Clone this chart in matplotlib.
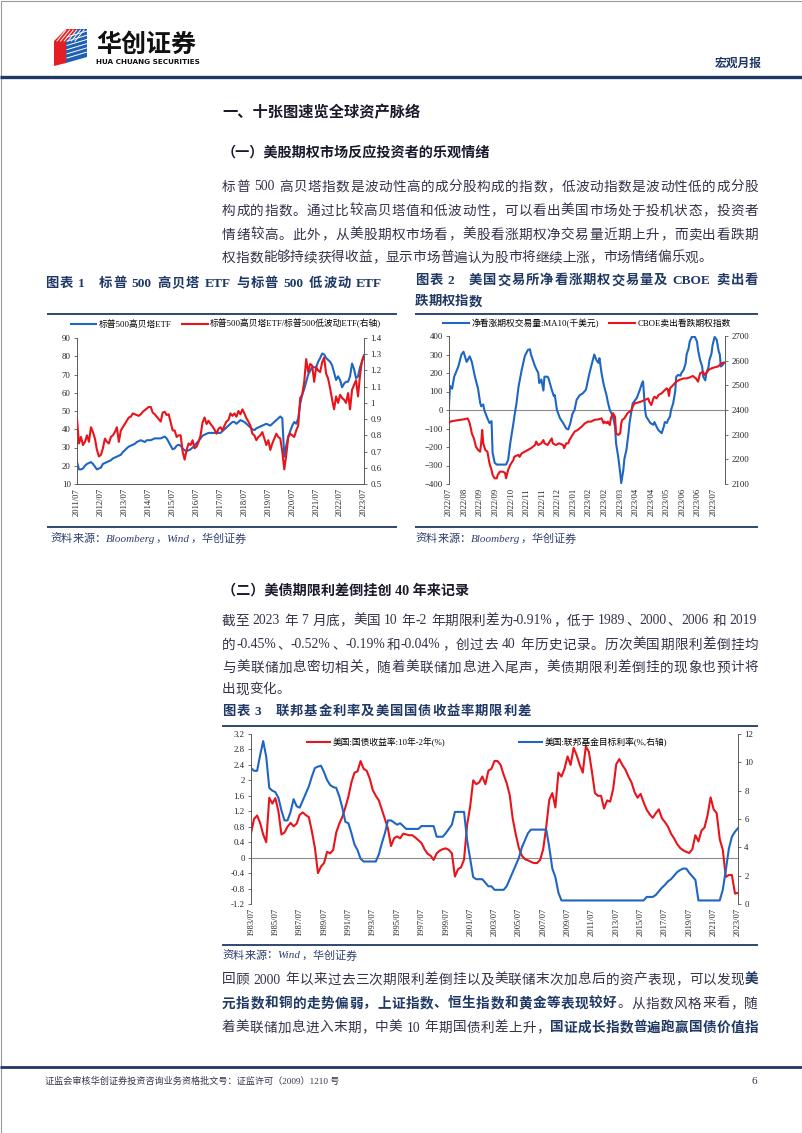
import re
import numpy as np
import matplotlib
matplotlib.use('Agg')
import matplotlib.pyplot as plt
from matplotlib.patches import Polygon

plt.rcParams['font.family'] = ['Liberation Serif', 'Noto Sans CJK SC', 'DejaVu Sans']

W, H = 802, 1133
NAVY = '#1f3864'
BLUE = '#1f66c2'
RED = '#e8141b'
TXT = '#33334a'
AXC = '#595959'

# ---------------- data: chart 1 (monthly, from 2011/07) ----------------
etf_start = 2011.5
etf_ticks = ['2011/07', '2012/07', '2013/07', '2014/07', '2015/07', '2016/07', '2017/07',
             '2018/07', '2019/07', '2020/07', '2021/07', '2022/07', '2023/07']
high_beta = [22, 18, 18, 18.5, 20, 21, 21.5, 22, 21, 19.5, 18, 18.5,
             19, 21, 21.5, 22, 22.5, 23, 24, 24.5, 25, 25.5, 26, 27.5,
             28.5, 29.6, 30.5, 31, 31.5, 32, 33, 33.5, 34, 33.5, 33, 34,
             34, 34, 34.5, 35, 35, 35, 35, 35.5, 36, 35, 33, 31,
             29, 29.5, 31, 31.5, 31, 29.5, 28.5, 28, 28.5, 29, 30, 31,
             32.5, 33.5, 35, 36.5, 37, 37.5, 38, 38, 38, 38, 38, 38,
             38, 39, 40, 41, 42, 43, 44, 44, 43, 44, 45, 44.5,
             44, 43, 42, 41, 40, 39.5, 40.5, 41, 41.5, 42, 42.5, 43,
             42.5, 42, 43, 44, 45, 46, 47, 46, 25, 31, 36, 39,
             42, 44, 43, 46, 54, 59, 62, 66, 70, 72, 74, 74,
             74, 77, 79, 81.5, 81, 79, 78, 77, 75, 71, 67, 69,
             67, 63, 65, 66, 66, 69, 76, 73, 68, 69, 74, 77, 80.5]
beta_ratio = [0.90, 0.75, 0.79, 0.74, 0.76, 0.80, 0.76, 0.85, 0.82, 0.78, 0.71, 0.67,
              0.68, 0.72, 0.78, 0.76, 0.75, 0.79, 0.80, 0.82, 0.85, 0.76, 0.83, 0.85,
              0.87, 0.89, 0.91, 0.915, 0.935, 0.93, 0.925, 0.92, 0.93, 0.945, 0.955, 0.965,
              0.975, 0.975, 0.94, 0.93, 0.915, 0.90, 0.885, 0.94, 0.945, 0.925, 0.93, 0.88,
              0.83, 0.83, 0.79, 0.80, 0.80, 0.70, 0.65, 0.71, 0.75, 0.74, 0.77, 0.72,
              0.73, 0.76, 0.80, 0.88, 0.91, 0.87, 0.89, 0.87, 0.855, 0.835, 0.81, 0.84,
              0.85, 0.83, 0.86, 0.885, 0.895, 0.935, 0.92, 0.935, 0.915, 0.95, 0.93, 0.96,
              0.935, 0.905, 0.885, 0.86, 0.81, 0.80, 0.77, 0.79, 0.80, 0.82, 0.78, 0.74,
              0.77, 0.71, 0.75, 0.78, 0.81, 0.79, 0.78, 0.70, 0.59, 0.68, 0.79, 0.81,
              0.80, 0.79, 0.83, 0.86, 1.03, 1.05, 1.13, 1.27, 1.19, 1.24, 1.23, 1.13,
              1.22, 1.20, 1.19, 1.25, 1.28, 1.18, 1.15, 1.09, 1.02, 0.96, 1.04, 1.00,
              1.05, 1.03, 1.02, 1.00, 1.06, 0.96, 1.08, 1.11, 1.14, 1.04, 1.17, 1.26, 1.29]

# ---------------- data: chart 2 (trading-day index from 2022/07) ----------------
opt_ticks = ['2022/07', '2022/08', '2022/09', '2022/09', '2022/10', '2022/11', '2022/11',
             '2022/12', '2023/01', '2023/02', '2023/02', '2023/03', '2023/04', '2023/04',
             '2023/05', '2023/06', '2023/06', '2023/07']
call_day = [0, 1, 3, 5, 9, 12, 14, 17, 20, 22, 25, 28, 30, 31, 33, 34, 37, 39, 41, 42,
            44, 46, 49, 52, 55, 57, 59, 62, 63, 65, 67, 70, 73, 76, 78, 79, 83, 86, 87, 89,
            91, 92, 95, 96, 99, 101, 102, 104, 107, 110, 113, 115, 117, 119, 121, 123, 126, 129, 132, 135,
            137, 140, 142, 144, 145, 147, 149, 152, 153, 155, 158, 160, 161, 163, 165, 166, 168, 169, 171, 173,
            174, 176, 177, 181, 182, 184, 186, 187, 188, 189, 190, 194, 197, 198, 200, 202, 205, 207, 208, 210,
            211, 213, 214, 216, 218, 219, 221, 223, 224, 226, 228, 229, 231, 232, 234, 237, 239, 240, 242, 244,
            245, 247, 248, 250, 251, 253, 254, 256, 258, 260, 261, 262, 264, 265]
call_net = [30, 130, 115, 180, 235, 300, 315, 260, 290, 260, 180, 115, 40, 20, 30, 0, -45, -70, -60, -230,
            -285, -295, -295, -295, -295, -270, -180, -75, -35, 35, 125, 215, 290, 325, 328, 300, 235, 200, 145, 165,
            105, 180, 180, 170, 110, 75, 80, 0, -45, -70, -100, -105, -70, -20, 0, 55, 80, 90, 110, 190,
            235, 300, 270, 255, 280, 200, 140, 75, 45, 0, -35, -90, -180, -250, -340, -395, -325, -265, -215, -125,
            -70, 0, 35, 65, 80, 110, 145, 155, 80, 0, -35, -70, -80, -65, -90, -110, -125, -90, -65, -70,
            -55, -35, 0, 35, 100, 180, 190, 185, 200, 215, 250, 300, 335, 370, 395, 395, 370, 325, 270, 235,
            180, 160, 200, 230, 270, 305, 350, 395, 380, 315, 300, 235, 245, 255]
put_day = [0, 1, 6, 14, 18, 20, 21, 22, 24, 26, 28, 30, 31, 32, 33, 35, 37, 39, 41, 42,
           44, 46, 47, 49, 52, 54, 55, 57, 59, 60, 62, 63, 67, 68, 70, 73, 76, 79, 83, 84,
           86, 89, 91, 92, 95, 99, 100, 103, 106, 110, 111, 113, 115, 116, 118, 121, 124, 128, 131, 134,
           137, 140, 144, 147, 149, 150, 152, 153, 155, 156, 158, 160, 161, 163, 165, 166, 167, 169, 170, 172,
           174, 176, 177, 179, 182, 185, 189, 192, 193, 195, 197, 198, 200, 202, 205, 208, 210, 211, 212, 213,
           216, 219, 222, 226, 229, 232, 235, 238, 240, 242, 245, 246, 248, 250, 253, 256, 259, 261, 262, 265]
put_index = [2346, 2353, 2357, 2362, 2366, 2346, 2326, 2305, 2285, 2251, 2238, 2231, 2265, 2319, 2265, 2238, 2231, 2184, 2157, 2137,
             2123, 2123, 2137, 2150, 2150, 2145, 2123, 2157, 2177, 2184, 2197, 2211, 2218, 2210, 2224, 2231, 2238, 2245, 2258, 2272,
             2258, 2265, 2278, 2265, 2258, 2285, 2265, 2258, 2265, 2258, 2245, 2265, 2265, 2278, 2292, 2312, 2319, 2333, 2346, 2353,
             2353, 2360, 2362, 2366, 2346, 2353, 2346, 2353, 2339, 2366, 2387, 2373, 2305, 2299, 2305, 2346, 2360, 2366, 2373, 2387,
             2393, 2400, 2414, 2427, 2430, 2434, 2441, 2447, 2434, 2420, 2447, 2454, 2447, 2461, 2468, 2481, 2488, 2481, 2457, 2488,
             2501, 2515, 2522, 2528, 2528, 2532, 2538, 2528, 2515, 2549, 2555, 2542, 2549, 2562, 2569, 2573, 2576, 2582, 2589, 2592]

# ---------------- data: chart 3 (quarterly, from 1983/07) ----------------
rate_start = 1983.5
rate_ticks = [f'{y}/07' for y in range(1983, 2024, 2)]
spread_10y2y = [0.63, 1.0, 1.09, 0.9, 0.6, 0.4, 1.55, 1.4, 1.54, 1.2,
                0.6, 0.65, 0.8, 0.9, 0.81, 0.88, 1.11, 1.17, 1.1, 1.05,
                0.68, 0.25, -0.4, -0.23, -0.14, 0.15, 0.11, 0.2, 0.65, 0.88,
                1.05, 1.3, 1.58, 1.95, 2.2, 2.23, 2.5, 2.3, 2.25, 2.05,
                1.75, 1.6, 1.48, 1.24, 1.0, 0.75, 0.3, 0.5, 0.55, 0.5,
                0.62, 0.6, 0.58, 0.58, 0.52, 0.45, 0.38, 0.22, 0.1, 0.05,
                -0.06, 0.11, 0.18, 0.22, 0.24, 0.2, 0.11, -0.49, -0.3, -0.25,
                -0.05, 0.85, 1.32, 2.0, 1.9, 1.95, 2.1, 1.9, 2.25, 2.3,
                2.5, 2.5, 2.4, 2.15, 1.93, 1.62, 1.0, 0.6, 0.25, 0.05,
                -0.04, -0.07, -0.11, -0.14, -0.14, -0.06, 0.22, 0.8, 1.5, 1.67,
                1.3, 2.2, 2.1, 2.3, 2.62, 2.4, 2.84, 2.65, 2.4, 2.2,
                2.88, 2.74, 2.23, 1.67, 1.6, 1.6, 1.27, 1.48, 1.45, 1.78,
                2.42, 2.55, 2.4, 2.28, 2.1, 1.95, 1.7, 1.55, 1.65, 1.43,
                1.24, 1.12, 1.03, 1.15, 1.25, 1.02, 0.92, 0.8, 0.62, 0.5,
                0.35, 0.25, 0.19, 0.15, 0.12, 0.22, 0.58, 0.42, 0.7, 0.78,
                1.1, 1.56, 1.25, 1.15, 0.48, 0.2, -0.5, -0.45, -0.45, -0.93, -0.91]
fed_target = [9.6, 9.4, 9.4, 10.5, 11.5, 10.4, 8.2, 8.0, 7.9, 7.5,
              6.6, 5.9, 5.9, 6.5, 7.4, 6.9, 6.8, 7.3, 7.8, 8.3,
              9.0, 9.6, 9.7, 9.76, 9.3, 8.75, 8.4, 8.25, 8.2, 7.6,
              6.8, 5.8, 5.7, 5.0, 4.2, 3.8, 3.2, 3.0, 3.0, 3.0,
              3.0, 3.0, 3.5, 4.3, 5.0, 5.9, 5.9, 5.75, 5.6, 5.7,
              5.5, 5.3, 5.3, 5.3, 5.3, 5.3, 5.5, 5.5, 5.5, 5.5,
              5.5, 4.75, 4.75, 4.75, 5.0, 5.3, 5.6, 6.5, 6.5, 6.5,
              6.5, 4.5, 3.2, 1.9, 1.75, 1.75, 1.75, 1.5, 1.25, 1.25,
              1.0, 1.0, 1.0, 1.0, 1.25, 1.75, 2.25, 2.75, 3.25, 4.0,
              4.5, 5.0, 5.25, 5.25, 5.25, 5.25, 5.25, 5.25, 4.0, 2.5,
              1.9, 0.8, 0.25, 0.25, 0.25, 0.25, 0.25, 0.25, 0.25, 0.25,
              0.25, 0.25, 0.25, 0.25, 0.25, 0.25, 0.25, 0.25, 0.25, 0.25,
              0.25, 0.25, 0.25, 0.25, 0.25, 0.25, 0.25, 0.25, 0.25, 0.25,
              0.5, 0.5, 0.5, 0.64, 0.9, 1.15, 1.35, 1.6, 1.75, 2.0,
              2.25, 2.4, 2.5, 2.5, 2.2, 1.95, 1.7, 0.25, 0.25, 0.25,
              0.25, 0.25, 0.25, 0.25, 0.25, 1.0, 2.4, 3.9, 4.75, 5.1, 5.35]

fig = plt.figure(figsize=(W / 100, H / 100), dpi=100)
fig.patch.set_facecolor('white')

page = fig.add_axes([0, 0, 1, 1], zorder=0)
page.set_xlim(0, W)
page.set_ylim(H, 0)
page.axis('off')
renderer = fig.canvas.get_renderer()


def px_box(l, t, r, b):
    return [l / W, 1 - b / H, (r - l) / W, (b - t) / H]


def put_line(y, segs, x0=222, x1=758, size=9.8, justify=True, color=TXT, bold_color=NAVY, style='normal'):
    em = size * 100 / 72
    objs, ws = [], []
    for s, bold in segs:
        for t in re.findall(r'[0-9A-Za-z.%\-/]+| |.', s):
            if t == ' ':
                objs.append(None)
                ws.append(0.25 * em)
                continue
            o = page.text(x0, y, t, fontsize=size, va='center', ha='left', fontstyle=style,
                          fontweight='bold' if bold else 'normal',
                          color=bold_color if bold else color)
            objs.append(o)
            if ord(t[0]) > 0x2000:
                ws.append(em)
            else:
                ws.append(o.get_window_extent(renderer).width + 0.06 * em)
    gap = (x1 - x0 - sum(ws)) / max(len(objs) - 1, 1) if justify else 0
    x = x0
    for o, w in zip(objs, ws):
        if o is not None:
            o.set_x(x)
        x += w + gap


# ---------------- page decoration ----------------
page.add_patch(plt.Rectangle((0.5, 0.5), W - 1, H - 1, fill=False, ec='#9a9a9a', lw=0.8))
# logo: blue striped side, red striped top, red solid front
page.add_patch(Polygon([(66, 29), (87, 29), (87, 57), (66, 63)], closed=True, fc='#1f5fb4', ec='none'))
page.add_patch(Polygon([(54, 41), (66, 29), (78, 29), (66, 41)], closed=True, fc='#e31f26', ec='none'))
page.add_patch(Polygon([(54, 41), (66, 41), (66, 63), (54, 66)], closed=True, fc='#e31f26', ec='none'))
for k in range(6):
    page.plot([57 + 3.6 * k, 66 + 3.6 * k], [41, 30], color='white', lw=0.7)
    page.plot([67, 87], [37 + 4.2 * k, 31 + 4.2 * k], color='white', lw=0.7)
page.text(96, 45, '华创证券', fontsize=18, fontweight='black', color='#111111', va='center',
          family=['Noto Sans CJK SC'])
page.text(96, 62, 'HUA CHUANG SECURITIES', fontsize=5.2, fontweight='bold', color='#111111',
          va='center', family=['DejaVu Sans'])
page.text(762, 64, '宏观月报', fontsize=8.5, fontweight='bold', color=NAVY, va='center', ha='right')
page.hlines(77, 0, W, color=NAVY, lw=2.4)
page.hlines(1067, 0, W, color=NAVY, lw=2.0)
page.text(45, 1081, '证监会审核华创证券投资咨询业务资格批文号：证监许可（2009）1210 号',
          fontsize=6.6, color=TXT, va='center')
page.text(757, 1081, '6', fontsize=8, color=TXT, va='center', ha='right')

# ---------------- text blocks ----------------
page.text(222, 113, '一、十张图速览全球资产脉络', fontsize=11, fontweight='bold', color='#1a1a2e', va='center')
page.text(222, 153, '（一）美股期权市场反应投资者的乐观情绪', fontsize=10.2, fontweight='bold',
          color='#1a1a2e', va='center')
put_line(187, [('标普 500 高贝塔指数是波动性高的成分股构成的指数，低波动指数是波动性低的成分股', False)])
put_line(211, [('构成的指数。通过比较高贝塔值和低波动性，可以看出美国市场处于投机状态，投资者', False)])
put_line(235, [('情绪较高。此外，从美股期权市场看，美股看涨期权净交易量近期上升，而卖出看跌期', False)])
put_line(258, [('权指数能够持续获得收益，显示市场普遍认为股市将继续上涨，市场情绪偏乐观。', False)], justify=False)

put_line(284, [('图表 1   标普 500 高贝塔 ETF 与标普 500 低波动 ETF', True)], x0=45, x1=383, size=9.6)
put_line(281, [('图表 2   美国交易所净看涨期权交易量及 CBOE 卖出看', True)], x0=415, size=9.6)
put_line(302, [('跌期权指数', True)], x0=415, size=9.6, justify=False)
page.hlines(314, 47, 397, color=NAVY, lw=1.3)
page.hlines(314, 415, 758, color=NAVY, lw=1.3)
page.hlines(527, 47, 397, color=NAVY, lw=1.3)
page.hlines(527, 415, 758, color=NAVY, lw=1.3)
put_line(539, [('资料来源：Bloomberg，Wind，华创证券', False)], x0=50, size=8, justify=False,
         color='#2f3f6f', style='italic')
put_line(539, [('资料来源：Bloomberg，华创证券', False)], x0=415, size=8, justify=False,
         color='#2f3f6f', style='italic')

page.text(222, 591, '（二）美债期限利差倒挂创 40 年来记录', fontsize=10.2, fontweight='bold',
          color='#1a1a2e', va='center')
put_line(621, [('截至 2023 年 7 月底，美国 10 年-2 年期限利差为-0.91%，低于 1989、2000、2006 和 2019', False)])
put_line(645, [('的-0.45%、-0.52%、-0.19%和-0.04%，创过去 40 年历史记录。历次美国期限利差倒挂均', False)])
put_line(668, [('与美联储加息密切相关，随着美联储加息进入尾声，美债期限利差倒挂的现象也预计将', False)])
put_line(690, [('出现变化。', False)], justify=False)

put_line(712, [('图表 3   联邦基金利率及美国国债收益率期限利差', True)], x1=531, size=9.6)
page.hlines(726, 222, 758, color=NAVY, lw=1.3)
page.hlines(945, 222, 758, color=NAVY, lw=1.3)
put_line(956, [('资料来源：Wind，华创证券', False)], size=8, justify=False, color='#2f3f6f', style='italic')

put_line(980, [('回顾 2000 年以来过去三次期限利差倒挂以及美联储末次加息后的资产表现，可以发现', False),
               ('美', True)])
put_line(1004, [('元指数和铜的走势偏弱，上证指数、恒生指数和黄金等表现较好', True),
                ('。从指数风格来看，随', False)])
put_line(1028, [('着美联储加息进入末期，中美 10 年期国债利差上升，', False),
                ('国证成长指数普遍跑赢国债价值指', True)])


# ---------------- chart helpers ----------------
def style_pair(ax, ax2, bottom=False):
    for a in (ax, ax2):
        a.patch.set_visible(False)
        for s in a.spines.values():
            s.set_visible(False)
            s.set_color(AXC)
            s.set_linewidth(0.7)
    ax.spines['left'].set_visible(True)
    ax2.spines['right'].set_visible(True)
    if bottom:
        ax.spines['bottom'].set_visible(True)
    ax.tick_params(axis='y', direction='out', length=2.5, width=0.6, colors=AXC,
                   labelcolor='#222222', labelsize=6.3, pad=2)
    ax2.tick_params(axis='y', direction='out', length=2.5, width=0.6, colors=AXC,
                    labelcolor='#222222', labelsize=6.3, pad=2)
    ax.tick_params(axis='x', length=0, labelsize=6.1, labelrotation=90, pad=3, labelcolor='#222222')


def fmt(v):
    return f'{round(v, 2):g}'


leg_kw = dict(frameon=False, prop={'family': ['Liberation Serif', 'Noto Sans CJK SC'], 'size': 6.3},
              handlelength=2.9, handletextpad=0.3, columnspacing=1.2, borderaxespad=0)

# ---------------- chart 1 ----------------
ax1 = fig.add_axes(px_box(77, 338, 364, 484), zorder=2)
ax1b = ax1.twinx()
x1 = etf_start + np.arange(len(high_beta)) / 12
l1, = ax1.plot(x1, high_beta, color=BLUE, lw=1.5, label='标普500高贝塔ETF')
l2, = ax1b.plot(x1, beta_ratio, color=RED, lw=1.5, label='标普500高贝塔ETF/标普500低波动ETF(右轴)')
ax1.set_xlim(etf_start, etf_start + 12)
ax1.set_ylim(10, 90)
ax1b.set_ylim(0.5, 1.4)
ax1.set_yticks(range(10, 91, 10))
r_ticks = [0.5, 0.6, 0.7, 0.8, 0.9, 1.0, 1.1, 1.2, 1.3, 1.4]
ax1b.set_yticks(r_ticks)
ax1b.set_yticklabels([fmt(v) for v in r_ticks])
ax1.set_xticks(etf_start + np.arange(len(etf_ticks)))
ax1.set_xticklabels(etf_ticks)
style_pair(ax1, ax1b, bottom=True)
ax1.legend([l1, l2], [l1.get_label(), l2.get_label()], ncol=2, loc='lower center',
           bbox_to_anchor=(0.52, 1.04), **leg_kw)

# ---------------- chart 2 ----------------
ax2 = fig.add_axes(px_box(449, 336, 725, 484), zorder=2)
ax2b = ax2.twinx()
ax2.axhline(0, color='#8c8c8c', lw=0.8)
m1, = ax2.plot(call_day, call_net, color=BLUE, lw=1.5, label='净看涨期权交易量:MA10(千美元)')
m2, = ax2b.plot(put_day, put_index, color=RED, lw=1.5, label='CBOE卖出看跌期权指数')
ax2.set_xlim(0, 266)
ax2.set_ylim(-400, 400)
ax2b.set_ylim(2100, 2700)
ax2.set_yticks(range(-400, 401, 100))
ax2b.set_yticks(range(2100, 2701, 100))
ax2.set_xticks(np.arange(len(opt_ticks)) * 15)
ax2.set_xticklabels(opt_ticks)
style_pair(ax2, ax2b)
ax2.legend([m1, m2], [m1.get_label(), m2.get_label()], ncol=2, loc='lower center',
           bbox_to_anchor=(0.5, 1.03), **leg_kw)

# ---------------- chart 3 ----------------
ax3 = fig.add_axes(px_box(251, 734, 738, 904), zorder=2)
ax3b = ax3.twinx()
ax3.axhline(0, color='#8c8c8c', lw=0.8)
x3 = rate_start + np.arange(len(spread_10y2y)) * 0.25
n1, = ax3.plot(x3, spread_10y2y, color=RED, lw=1.5, label='美国:国债收益率:10年-2年(%)')
n2, = ax3b.plot(x3, fed_target, color=BLUE, lw=1.5, label='美国:联邦基金目标利率(%,右轴)')
ax3.set_xlim(rate_start, rate_start + 40)
ax3.set_ylim(-1.2, 3.2)
ax3b.set_ylim(0, 12)
l_ticks = [-1.2, -0.8, -0.4, 0, 0.4, 0.8, 1.2, 1.6, 2.0, 2.4, 2.8, 3.2]
ax3.set_yticks(l_ticks)
ax3.set_yticklabels([fmt(v) for v in l_ticks])
ax3b.set_yticks(range(0, 13, 2))
ax3.set_xticks(rate_start + np.arange(len(rate_ticks)) * 2)
ax3.set_xticklabels(rate_ticks)
style_pair(ax3, ax3b)
leg3 = dict(leg_kw)
leg3['handlelength'] = 2.6
leg3['columnspacing'] = 8.5
ax3.legend([n1, n2], [n1.get_label(), n2.get_label()], ncol=2, loc='upper center',
           bbox_to_anchor=(0.485, 1.0), **leg3)

fig.savefig('out.png', dpi=100, facecolor='white')
